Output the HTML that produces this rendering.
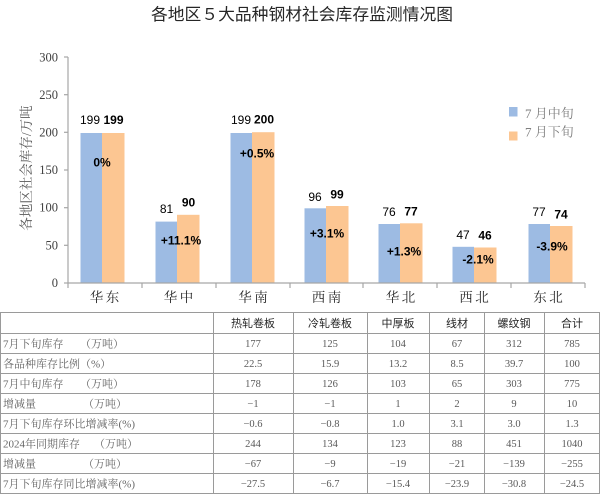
<!DOCTYPE html>
<html><head><meta charset="utf-8">
<style>
html,body{margin:0;padding:0;background:#fff;}
svg{display:block;}
.serif{font-family:"Liberation Serif","Noto Serif CJK SC",serif;}
.sans{font-family:"Liberation Sans","Noto Sans CJK SC",sans-serif;}
</style></head>
<body>
<svg width="600" height="494" viewBox="0 0 600 494" xmlns="http://www.w3.org/2000/svg">
<rect width="600" height="494" fill="#fff"/>
<!-- title -->
<text x="302" y="20" text-anchor="middle" class="sans" font-size="16.5" fill="#262626" textLength="302" lengthAdjust="spacingAndGlyphs">各地区５大品种钢材社会库存监测情况图</text>

<!-- y axis title -->
<text transform="translate(31,168) rotate(-90)" text-anchor="middle" class="serif" font-size="13.5" fill="#595959">各地区社会库存/万吨</text>

<!-- y axis ticks labels -->
<g class="serif" font-size="12.5" fill="#404040" text-anchor="end">
<text x="58" y="61.5">300</text>
<text x="58" y="99">250</text>
<text x="58" y="136.5">200</text>
<text x="58" y="174">150</text>
<text x="58" y="211.5">100</text>
<text x="58" y="249.5">50</text>
<text x="58" y="287">0</text>
</g>

<!-- bars -->
<g>
<rect x="80.5" y="133" width="21.5" height="149.5" fill="#9dbbe3"/>
<rect x="102" y="133" width="22.5" height="149.5" fill="#fcc692"/>
<rect x="155.5" y="221.6" width="21.5" height="60.9" fill="#9dbbe3"/>
<rect x="177" y="214.8" width="22.5" height="67.7" fill="#fcc692"/>
<rect x="230.5" y="133" width="21.5" height="149.5" fill="#9dbbe3"/>
<rect x="252" y="132.2" width="22.5" height="150.3" fill="#fcc692"/>
<rect x="304.5" y="208.3" width="21.5" height="74.2" fill="#9dbbe3"/>
<rect x="326" y="206" width="22.5" height="76.5" fill="#fcc692"/>
<rect x="378.5" y="224" width="21.5" height="58.5" fill="#9dbbe3"/>
<rect x="400" y="223.3" width="22.5" height="59.2" fill="#fcc692"/>
<rect x="452.5" y="246.8" width="21.5" height="35.7" fill="#9dbbe3"/>
<rect x="474" y="247.5" width="22.5" height="35" fill="#fcc692"/>
<rect x="528.5" y="224" width="21.5" height="58.5" fill="#9dbbe3"/>
<rect x="550" y="226" width="22.5" height="56.5" fill="#fcc692"/>
</g>

<!-- axes -->
<g stroke="#a6a6a6" stroke-width="1.2" fill="none">
<line x1="68" y1="57" x2="68" y2="283"/>
<line x1="68" y1="283" x2="585" y2="283"/>
<line x1="64" y1="57" x2="68" y2="57"/>
<line x1="64" y1="94.7" x2="68" y2="94.7"/>
<line x1="64" y1="132.3" x2="68" y2="132.3"/>
<line x1="64" y1="170" x2="68" y2="170"/>
<line x1="64" y1="207.7" x2="68" y2="207.7"/>
<line x1="64" y1="245.3" x2="68" y2="245.3"/>
<line x1="64" y1="283" x2="68" y2="283"/>
<line x1="68" y1="283" x2="68" y2="288"/>
<line x1="142" y1="283" x2="142" y2="288"/>
<line x1="216" y1="283" x2="216" y2="288"/>
<line x1="290" y1="283" x2="290" y2="288"/>
<line x1="363" y1="283" x2="363" y2="288"/>
<line x1="437" y1="283" x2="437" y2="288"/>
<line x1="511" y1="283" x2="511" y2="288"/>
<line x1="585" y1="283" x2="585" y2="288"/>
</g>

<!-- value labels -->
<g class="sans" font-size="12" fill="#000" text-anchor="middle">
<text x="90" y="124">199</text>
<text x="113.5" y="124" font-weight="bold">199</text>
<text x="166.5" y="213">81</text>
<text x="188.5" y="206.5" font-weight="bold">90</text>
<text x="241" y="124">199</text>
<text x="264" y="123.5" font-weight="bold">200</text>
<text x="315" y="201">96</text>
<text x="337" y="198.5" font-weight="bold">99</text>
<text x="389" y="216">76</text>
<text x="411" y="215.5" font-weight="bold">77</text>
<text x="463" y="239">47</text>
<text x="485" y="239.5" font-weight="bold">46</text>
<text x="539" y="216">77</text>
<text x="561" y="218.5" font-weight="bold">74</text>
</g>

<!-- percent labels -->
<g class="sans" font-size="12" font-weight="bold" fill="#000" text-anchor="middle">
<text x="102" y="166.5">0%</text>
<text x="181" y="244.5">+11.1%</text>
<text x="257" y="157.5">+0.5%</text>
<text x="327" y="237.5">+3.1%</text>
<text x="404" y="255.5">+1.3%</text>
<text x="478" y="263.5">-2.1%</text>
<text x="552" y="250.5">-3.9%</text>
</g>

<!-- category labels -->
<g class="serif" font-size="13.5" fill="#262626" text-anchor="middle">
<text x="96.5" y="302">华</text><text x="112.5" y="302">东</text>
<text x="170.5" y="302">华</text><text x="186.5" y="302">中</text>
<text x="245" y="302">华</text><text x="261" y="302">南</text>
<text x="318.5" y="302">西</text><text x="334.5" y="302">南</text>
<text x="392.5" y="302">华</text><text x="408.5" y="302">北</text>
<text x="466" y="302">西</text><text x="482" y="302">北</text>
<text x="540" y="302">东</text><text x="556" y="302">北</text>
</g>

<!-- legend -->
<rect x="509" y="107" width="8.5" height="9.5" fill="#9dbbe3"/>
<rect x="509" y="131.5" width="8.5" height="9" fill="#fcc692"/>
<g class="serif" font-size="13" fill="#7f7f7f">
<text x="525" y="118">7 月中旬</text>
<text x="525" y="136.5">7 月下旬</text>
</g>

<!-- table grid -->
<g stroke="#9a9a9a" stroke-width="1" fill="none">
<line x1="0" y1="312.5" x2="600" y2="312.5"/>
<line x1="0" y1="333.5" x2="600" y2="333.5"/>
<line x1="0" y1="353.5" x2="600" y2="353.5"/>
<line x1="0" y1="373.5" x2="600" y2="373.5"/>
<line x1="0" y1="393.5" x2="600" y2="393.5"/>
<line x1="0" y1="413.5" x2="600" y2="413.5"/>
<line x1="0" y1="433.5" x2="600" y2="433.5"/>
<line x1="0" y1="453.5" x2="600" y2="453.5"/>
<line x1="0" y1="473.5" x2="600" y2="473.5"/>
<line x1="0" y1="493.5" x2="600" y2="493.5"/>
<line x1="0.5" y1="312" x2="0.5" y2="494"/>
<line x1="213.5" y1="312" x2="213.5" y2="494"/>
<line x1="293.5" y1="312" x2="293.5" y2="494"/>
<line x1="367.5" y1="312" x2="367.5" y2="494"/>
<line x1="429.5" y1="312" x2="429.5" y2="494"/>
<line x1="484.5" y1="312" x2="484.5" y2="494"/>
<line x1="544.5" y1="312" x2="544.5" y2="494"/>
<line x1="599.5" y1="312" x2="599.5" y2="494"/>
</g>

<!-- table header -->
<g class="sans" font-size="11" fill="#262626" text-anchor="middle">
<text x="253" y="327">热轧卷板</text>
<text x="330" y="327">冷轧卷板</text>
<text x="398" y="327">中厚板</text>
<text x="457" y="327">线材</text>
<text x="514" y="327">螺纹钢</text>
<text x="572" y="327">合计</text>
</g>

<!-- row labels -->
<g class="serif" font-size="11" fill="#666">
<text x="3" y="347.5">7月下旬库存</text><text x="80" y="347.5">（万吨）</text>
<text x="3" y="367.5">各品种库存比例（%）</text>
<text x="3" y="387.5">7月中旬库存</text><text x="80" y="387.5">（万吨）</text>
<text x="3" y="407.5">增减量</text><text x="83" y="407.5">（万吨）</text>
<text x="3" y="427.5">7月下旬库存环比增减率(%)</text>
<text x="3" y="447.5">2024年同期库存</text><text x="94" y="447.5">（万吨）</text>
<text x="3" y="467.5">增减量</text><text x="83" y="467.5">（万吨）</text>
<text x="3" y="487.5">7月下旬库存同比增减率(%)</text>
</g>

<!-- table values -->
<g class="serif" font-size="10.5" fill="#595959" text-anchor="middle">
<text x="253" y="347">177</text><text x="330" y="347">125</text><text x="398" y="347">104</text><text x="457" y="347">67</text><text x="514" y="347">312</text><text x="572" y="347">785</text>
<text x="253" y="367">22.5</text><text x="330" y="367">15.9</text><text x="398" y="367">13.2</text><text x="457" y="367">8.5</text><text x="514" y="367">39.7</text><text x="572" y="367">100</text>
<text x="253" y="387">178</text><text x="330" y="387">126</text><text x="398" y="387">103</text><text x="457" y="387">65</text><text x="514" y="387">303</text><text x="572" y="387">775</text>
<text x="253" y="407">−1</text><text x="330" y="407">−1</text><text x="398" y="407">1</text><text x="457" y="407">2</text><text x="514" y="407">9</text><text x="572" y="407">10</text>
<text x="253" y="427">−0.6</text><text x="330" y="427">−0.8</text><text x="398" y="427">1.0</text><text x="457" y="427">3.1</text><text x="514" y="427">3.0</text><text x="572" y="427">1.3</text>
<text x="253" y="447">244</text><text x="330" y="447">134</text><text x="398" y="447">123</text><text x="457" y="447">88</text><text x="514" y="447">451</text><text x="572" y="447">1040</text>
<text x="253" y="467">−67</text><text x="330" y="467">−9</text><text x="398" y="467">−19</text><text x="457" y="467">−21</text><text x="514" y="467">−139</text><text x="572" y="467">−255</text>
<text x="253" y="487">−27.5</text><text x="330" y="487">−6.7</text><text x="398" y="487">−15.4</text><text x="457" y="487">−23.9</text><text x="514" y="487">−30.8</text><text x="572" y="487">−24.5</text>
</g>
</svg>
</body></html>
